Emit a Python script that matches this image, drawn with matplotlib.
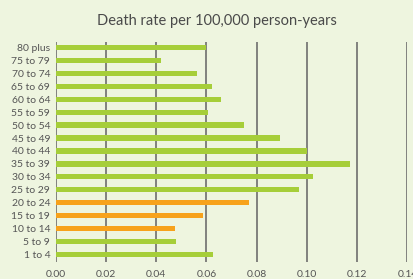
import matplotlib
matplotlib.use("Agg")
import matplotlib.pyplot as plt

ages = ["1 to 4", "5 to 9", "10 to 14", "15 to 19", "20 to 24", "25 to 29",
        "30 to 34", "35 to 39", "40 to 44", "45 to 49", "50 to 54", "55 to 59",
        "60 to 64", "65 to 69", "70 to 74", "75 to 79", "80 plus"]
rates = [0.0625, 0.0479, 0.0474, 0.0586, 0.0769, 0.0967,
         0.1023, 0.1170, 0.0999, 0.0892, 0.0749, 0.0605,
         0.0657, 0.0621, 0.0562, 0.0419, 0.0600]
highlight = ["10 to 14", "15 to 19", "20 to 24"]
xticks = [0.00, 0.02, 0.04, 0.06, 0.08, 0.10, 0.12, 0.14]

bg = "#eef5df"
green = "#a6ce39"
orange = "#f7a21b"
colors = [orange if a in highlight else green for a in ages]

plt.rcParams["font.family"] = ["Lato", "DejaVu Sans"]

fig = plt.figure(figsize=(4.14, 2.79), dpi=100, facecolor=bg)
ax = fig.add_axes([0.1345, 0.061, 0.8495, 0.7885], facecolor=bg)

ax.barh(range(len(ages)), rates, height=0.42, color=colors, zorder=3)

ax.set_xlim(0, 0.14)
ax.set_ylim(-0.6, len(ages) - 0.56)
ax.set_xticks(xticks)
ax.set_xticklabels(["%.2f" % t for t in xticks])
ax.set_yticks(range(len(ages)))
ax.set_yticklabels(ages)
ax.tick_params(axis="both", length=0, labelsize=7.5, colors="#555555")
ax.tick_params(axis="x", pad=6)
ax.tick_params(axis="y", pad=4)
for t in xticks:
    ax.axvline(t, color="#6e6e6e", lw=1.2, zorder=1)
for s in ax.spines.values():
    s.set_visible(False)

fig.text(0.525, 0.925, "Death rate per 100,000 person-years",
         ha="center", va="center", fontsize=10.5, color="#4a4a4a")

fig.savefig("out.png", dpi=100, facecolor=bg)
